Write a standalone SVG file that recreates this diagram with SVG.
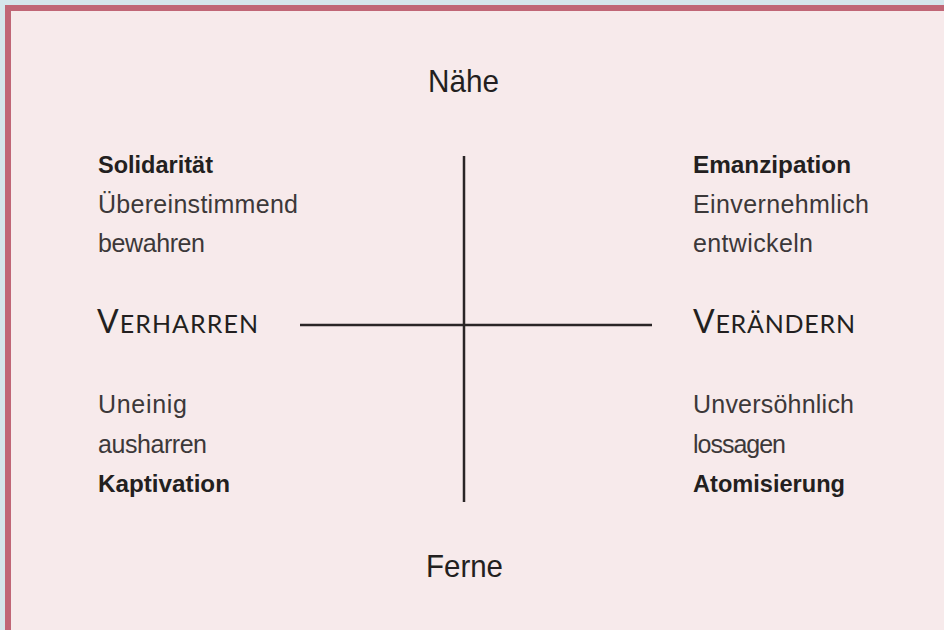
<svg xmlns="http://www.w3.org/2000/svg" width="944" height="630" viewBox="0 0 944 630">
  <style>
    .pole { font-family: "Liberation Sans", Arial, sans-serif; font-size: 32px; fill: #231f20; }
    .head { font-family: "Liberation Sans", Arial, sans-serif; font-size: 24px; font-weight: bold; fill: #231f20; }
    .desc { font-family: "Liberation Sans", Arial, sans-serif; font-size: 25px; fill: #3c3839; }
    .axis { font-family: Lato, "Liberation Sans", sans-serif; font-size: 25px; fill: #231f20; }
    .axis .cap { font-size: 32px; }
    .line { stroke: #2a2526; stroke-width: 2.5; fill: none; }
  </style>

  <!-- frame -->
  <rect x="0" y="0" width="944" height="630" fill="#d5e5eb"/>
  <rect x="5" y="5" width="939" height="625" fill="#c06676"/>
  <rect x="11" y="11" width="933" height="619" fill="#f7eaeb"/>

  <!-- axes -->
  <g id="connectors">
    <line class="line" x1="464" y1="156" x2="464" y2="502"/>
    <line class="line" x1="300" y1="325" x2="652" y2="325"/>
  </g>

  <g id="pole-top">
    <text class="pole" x="428" y="92" textLength="71" lengthAdjust="spacingAndGlyphs">Nähe</text>
  </g>
  <g id="pole-bottom">
    <text class="pole" x="426" y="577" textLength="77" lengthAdjust="spacingAndGlyphs">Ferne</text>
  </g>

  <g id="axis-left">
    <text class="axis" x="97" y="333" textLength="161"><tspan class="cap">V</tspan>ERHARREN</text>
  </g>
  <g id="axis-right">
    <text class="axis" x="693" y="333" textLength="162"><tspan class="cap">V</tspan>ERÄNDERN</text>
  </g>

  <g id="solidaritaet">
    <text class="head" x="98" y="173" textLength="115" lengthAdjust="spacingAndGlyphs">Solidarität</text>
    <text class="desc" x="98" y="213" textLength="200">Übereinstimmend</text>
    <text class="desc" x="98" y="252" textLength="107">bewahren</text>
  </g>

  <g id="emanzipation">
    <text class="head" x="693" y="173" textLength="158" lengthAdjust="spacingAndGlyphs">Emanzipation</text>
    <text class="desc" x="693" y="213" textLength="176">Einvernehmlich</text>
    <text class="desc" x="693" y="252" textLength="120">entwickeln</text>
  </g>

  <g id="kaptivation">
    <text class="desc" x="98" y="413" textLength="89">Uneinig</text>
    <text class="desc" x="98" y="453" textLength="109">ausharren</text>
    <text class="head" x="98" y="492" textLength="132" lengthAdjust="spacingAndGlyphs">Kaptivation</text>
  </g>

  <g id="atomisierung">
    <text class="desc" x="693" y="413" textLength="161">Unversöhnlich</text>
    <text class="desc" x="693" y="453" textLength="93">lossagen</text>
    <text class="head" x="693" y="492" textLength="152" lengthAdjust="spacingAndGlyphs">Atomisierung</text>
  </g>
</svg>
